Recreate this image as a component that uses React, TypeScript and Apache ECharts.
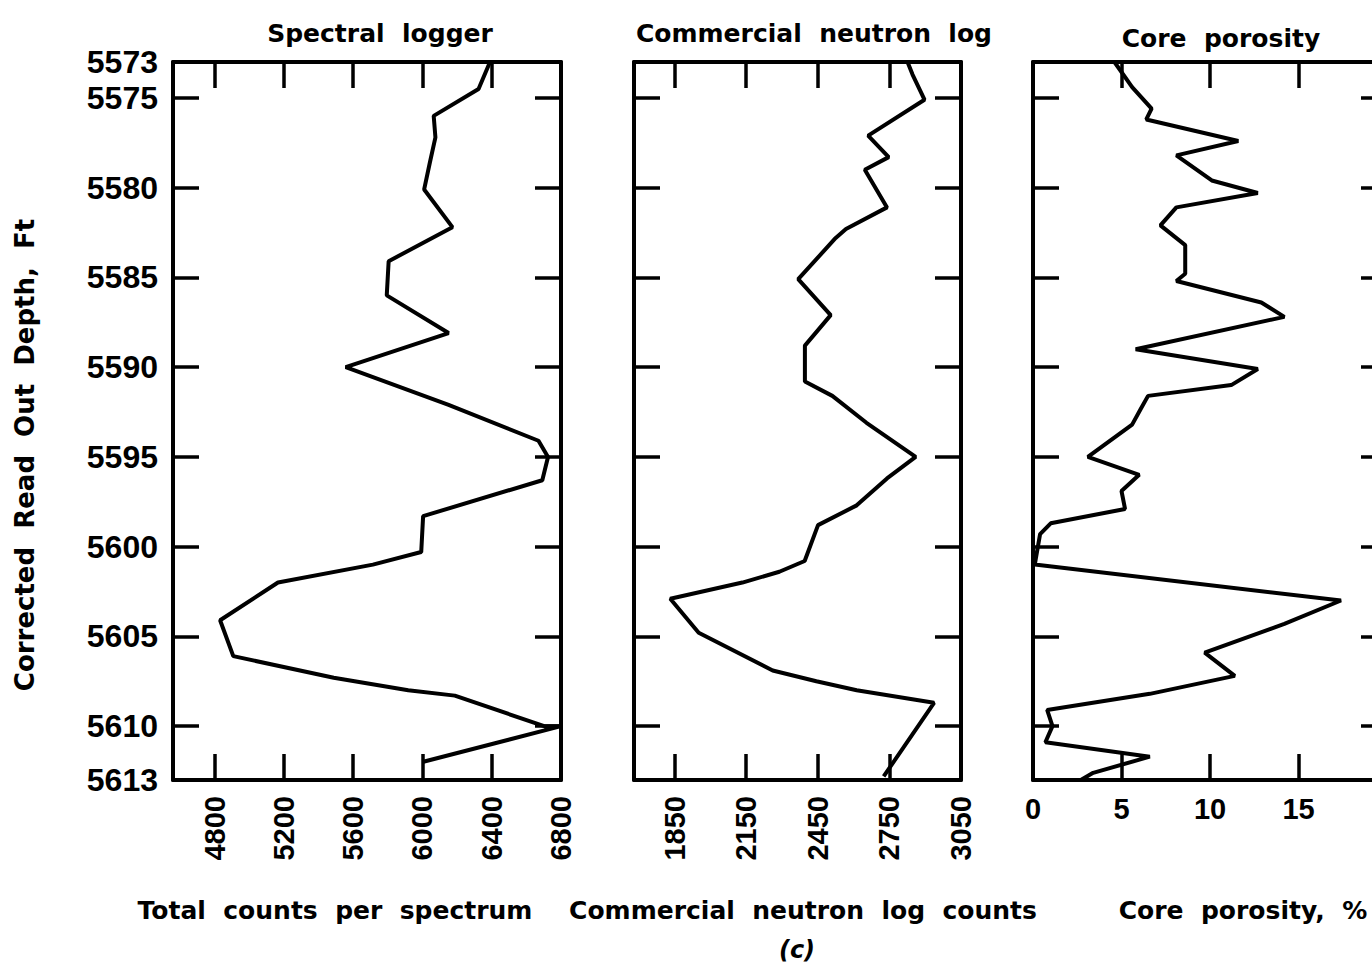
import React, { useEffect, useRef } from "react";
import * as echarts from "echarts";

// ---- Depth axis (shared) ----
const depthMin = 5573;
const depthMax = 5613;
const depthLabelValues = [5573, 5575, 5580, 5585, 5590, 5595, 5600, 5605, 5610, 5613];
const depthTickValues = [5575, 5580, 5585, 5590, 5595, 5600, 5605, 5610];

// ---- Panel 1: Spectral logger ----
const spectralLabelValues = [4800, 5200, 5600, 6000, 6400, 6800];
const spectralTickValues = [4800, 5200, 5600, 6000, 6400];
const spectralDepth = [5573, 5574.5, 5576, 5577.2, 5578.6, 5580.1, 5582.2, 5584.1, 5586.0, 5588.1, 5590.0, 5592.1, 5594.1, 5595.0, 5596.3, 5598.3, 5600.3, 5601.0, 5602.0, 5604.1, 5606.1, 5607.3, 5608.0, 5608.3, 5610.0, 5610.0, 5612.0];
const spectralCounts = [6390, 6324, 6065, 6075, 6043, 6010, 6173, 5805, 5794, 6151, 5557, 6151, 6670, 6725, 6692, 6004, 5993, 5714, 5166, 4832, 4908, 5488, 5918, 6187, 6703, 6800, 6000];

// ---- Panel 2: Commercial neutron log ----
const neutronLabelValues = [1850, 2150, 2450, 2750, 3050];
const neutronTickValues = [1850, 2150, 2450, 2750];
const neutronDepth = [5573, 5573.7, 5575.1, 5577.1, 5578.3, 5579.0, 5581.1, 5582.3, 5582.8, 5585.1, 5587.1, 5588.8, 5590.8, 5591.6, 5593.1, 5595.0, 5596.2, 5597.7, 5598.8, 5600.8, 5601.4, 5602.0, 5602.9, 5604.8, 5606.9, 5607.5, 5608.0, 5608.7, 5612.8];
const neutronCounts = [2826, 2847, 2897, 2661, 2747, 2647, 2740, 2568, 2525, 2368, 2504, 2396, 2396, 2511, 2654, 2860, 2740, 2613, 2451, 2395, 2289, 2134, 1832, 1951, 2261, 2444, 2613, 2937, 2726];

// ---- Panel 3: Core porosity ----
const porosityLabelValues = [0, 5, 10, 15];
const porosityTickValues = [5, 10, 15];
const porosityDepth = [5573, 5574.4, 5575.6, 5576.2, 5577.4, 5578.2, 5579.6, 5580.3, 5581.1, 5582.1, 5583.2, 5584.8, 5585.2, 5586.4, 5587.2, 5589.0, 5590.1, 5591.0, 5591.6, 5592.3, 5593.2, 5595.0, 5596.0, 5596.9, 5597.9, 5598.7, 5599.3, 5601.0, 5603.0, 5604.3, 5605.9, 5607.2, 5608.2, 5609.1, 5610.0, 5610.9, 5611.7, 5612.6, 5613];
const porosity = [4.6, 5.6, 6.7, 6.4, 11.6, 8.1, 10.1, 12.7, 8.1, 7.2, 8.6, 8.6, 8.1, 12.9, 14.2, 5.8, 12.7, 11.2, 6.5, 6.1, 5.6, 3.1, 6.0, 5.0, 5.2, 1.0, 0.4, 0.1, 17.4, 14.2, 9.7, 11.4, 6.6, 0.8, 1.1, 0.7, 6.6, 3.4, 2.7];

const NUM_FONT = '"Liberation Sans", Arial, sans-serif';
const TXT_FONT = '"DejaVu Sans", "Liberation Sans", sans-serif';
const INK = "#000";

function pairs(xs: number[], ys: number[]) {
  return xs.map((x, i) => [x, ys[i]]);
}

const plain = (v: number) => String(v);

function xAxisPair(gridIndex: number, min: number, max: number, labels: number[], ticks: number[], rotate: number, margin: number) {
  const base = {
    type: "value",
    gridIndex,
    min,
    max,
    splitLine: { show: false },
    axisLine: { show: true, onZero: false, lineStyle: { color: INK, width: 4 } },
    axisTick: { show: true, inside: true, length: 26, customValues: ticks, lineStyle: { color: INK, width: 3.5 } },
  };
  return [
    {
      ...base,
      position: "bottom",
      axisLabel: {
        show: true,
        customValues: labels,
        formatter: plain,
        rotate,
        margin,
        color: INK,
        fontFamily: NUM_FONT,
        fontWeight: "bold",
        fontSize: 29,
      },
    },
    { ...base, position: "top", axisLabel: { show: false } },
  ];
}

function yAxisPair(gridIndex: number, showLabels: boolean) {
  const base = {
    type: "value",
    gridIndex,
    min: depthMin,
    max: depthMax,
    inverse: true,
    splitLine: { show: false },
    axisLine: { show: true, onZero: false, lineStyle: { color: INK, width: 4 } },
    axisTick: { show: true, inside: true, length: 26, customValues: depthTickValues, lineStyle: { color: INK, width: 3.5 } },
  };
  return [
    {
      ...base,
      position: "left",
      axisLabel: {
        show: showLabels,
        customValues: depthLabelValues,
        formatter: plain,
        margin: 15,
        color: INK,
        fontFamily: NUM_FONT,
        fontWeight: "bold",
        fontSize: 32,
      },
    },
    { ...base, position: "right", axisLabel: { show: false } },
  ];
}

function txt(text: string, x: number, y: number, opts: any = {}) {
  return {
    type: "text",
    x,
    y,
    rotation: opts.rotation || 0,
    style: {
      text,
      fill: INK,
      font: opts.font || `bold 25px ${TXT_FONT}`,
      align: "center",
      verticalAlign: "middle",
      textAlign: "center",
      textVerticalAlign: "middle",
    },
  };
}

export default function App() {
  const ref = useRef<HTMLDivElement>(null);
  useEffect(() => {
    if (!ref.current) return;
    const chart = echarts.init(ref.current, undefined, { renderer: "svg" });
    const option: any = {
      animation: false,
      backgroundColor: "#fff",
      grid: [
        { left: 173, top: 62, width: 388, height: 718, outerBoundsMode: "none", containLabel: false },
        { left: 634, top: 62, width: 327, height: 718, outerBoundsMode: "none", containLabel: false },
        { left: 1033, top: 62, width: 354, height: 718, outerBoundsMode: "none", containLabel: false },
      ],
      xAxis: [
        ...xAxisPair(0, 4560, 6800, spectralLabelValues, spectralTickValues, 90, 16),
        ...xAxisPair(1, 1680, 3050, neutronLabelValues, neutronTickValues, 90, 16),
        ...xAxisPair(2, 0, 20, porosityLabelValues, porosityTickValues, 0, 14),
      ],
      yAxis: [...yAxisPair(0, true), ...yAxisPair(1, false), ...yAxisPair(2, false)],
      series: [
        {
          name: "Spectral logger",
          type: "line",
          xAxisIndex: 0,
          yAxisIndex: 0,
          data: pairs(spectralCounts, spectralDepth),
          showSymbol: false,
          symbol: "none",
          lineStyle: { color: INK, width: 4 },
          z: 3,
        },
        {
          name: "Commercial neutron log",
          type: "line",
          xAxisIndex: 2,
          yAxisIndex: 2,
          data: pairs(neutronCounts, neutronDepth),
          showSymbol: false,
          symbol: "none",
          lineStyle: { color: INK, width: 4 },
          z: 3,
        },
        {
          name: "Core porosity",
          type: "line",
          xAxisIndex: 4,
          yAxisIndex: 4,
          data: pairs(porosity, porosityDepth),
          showSymbol: false,
          symbol: "none",
          lineStyle: { color: INK, width: 4 },
          z: 3,
        },
      ],
      graphic: [
        txt("Spectral  logger", 380, 33),
        txt("Commercial  neutron  log", 814, 33),
        txt("Core  porosity", 1221, 38),
        txt("Total  counts  per  spectrum", 335, 910),
        txt("Commercial  neutron  log  counts", 803, 910),
        txt("Core  porosity,  %", 1243, 910),
        txt("(c)", 797, 950, { font: `italic bold 24px ${TXT_FONT}` }),
        txt("Corrected  Read  Out  Depth,  Ft", 25, 455, { rotation: Math.PI / 2, font: `bold 26px ${TXT_FONT}` }),
      ],
    };
    chart.setOption(option);
    return () => chart.dispose();
  }, []);
  return (
    <div
      ref={ref}
      style={{ position: "fixed", left: 0, top: 0, width: 1372, height: 975, background: "#fff" }}
    />
  );
}
